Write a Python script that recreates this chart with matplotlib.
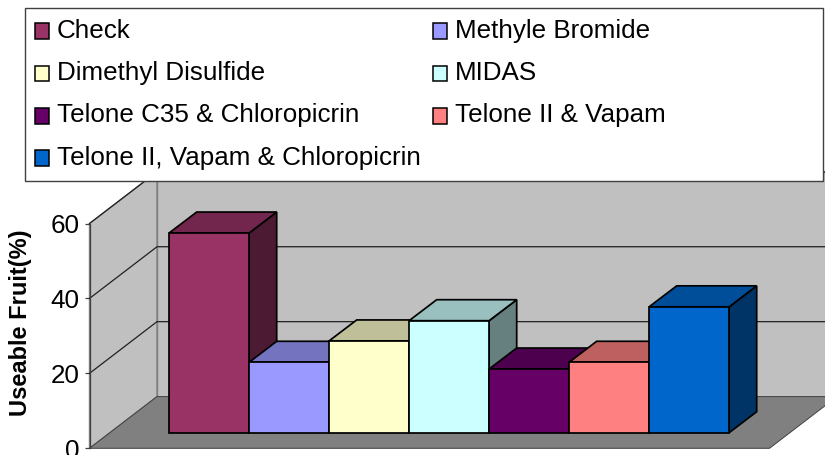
import matplotlib
matplotlib.use("Agg")
import matplotlib.pyplot as plt
from matplotlib.patches import Polygon, Patch, Rectangle
from matplotlib.legend_handler import HandlerPatch
from matplotlib.colors import to_rgb

treatments = ["Check", "Methyle Bromide", "Dimethyl Disulfide", "MIDAS",
              "Telone C35 & Chloropicrin", "Telone II & Vapam",
              "Telone II, Vapam & Chloropicrin"]
useable_fruit = [53.3, 18.8, 24.5, 29.9, 17.0, 18.8, 33.6]
colors = ["#993366", "#9999FF", "#FFFFCC", "#CCFFFF", "#660066", "#FF8080", "#0066CC"]
y_ticks = [0, 20, 40, 60]

W, H = 825, 455
plt.rcParams["font.family"] = ["Liberation Sans", "DejaVu Sans"]
fig = plt.figure(figsize=(W / 100, H / 100), dpi=100, facecolor="white")
ax = fig.add_axes([89.5 / W, 1 - 448.3 / H, 680 / W, 224.8 / H])
ax.set_xlim(-0.75, 7.75)
ax.set_ylim(0, 60)
ax.patch.set_visible(False)

# depth of the 3D box, in axis units
DX, DY = 0.844, 13.8
BAR_DX, BAR_DY = 0.345, 5.6
OFF_X, OFF_Y = 0.245, 4.16


def poly(points, fc, ec="none", lw=0.0, z=1):
    ax.add_patch(Polygon(points, closed=True, facecolor=fc, edgecolor=ec,
                         linewidth=lw, clip_on=False, zorder=z, joinstyle="miter"))


def shade(color, factor):
    return tuple(c * factor for c in to_rgb(color))


x0, x1 = ax.get_xlim()
top = y_ticks[-1]
wall_edge = "#808080"
# side wall, back wall, floor
poly([(x0, 0), (x0 + DX, DY), (x0 + DX, top + DY), (x0, top)], "#C0C0C0", wall_edge, 1.0, 1)
poly([(x0 + DX, DY), (x1 + DX, DY), (x1 + DX, top + DY), (x0 + DX, top + DY)], "#C0C0C0", wall_edge, 1.0, 1)
poly([(x0, 0), (x1, 0), (x1 + DX, DY), (x0 + DX, DY)], "#808080", "#404040", 0.7, 1)

# gridlines
for v in y_ticks[1:]:
    ax.plot([x0, x0 + DX, x1 + DX], [v, v + DY, v + DY], color="#202020", lw=0.9,
            clip_on=False, zorder=2, solid_joinstyle="miter")

# bars
for i, (v, c) in enumerate(zip(useable_fruit, colors)):
    left = i + OFF_X
    right = left + 1
    bot = OFF_Y
    tp = OFF_Y + v
    z = 3 + i
    kw = dict(ec="black", lw=1.25, z=z)
    poly([(right, bot), (right + BAR_DX, bot + BAR_DY), (right + BAR_DX, tp + BAR_DY), (right, tp)],
         shade(c, 0.5), **kw)
    poly([(left, tp), (right, tp), (right + BAR_DX, tp + BAR_DY), (left + BAR_DX, tp + BAR_DY)],
         shade(c, 0.75), **kw)
    poly([(left, bot), (right, bot), (right, tp), (left, tp)], c, **kw)

# axes
for s in ("top", "right", "bottom"):
    ax.spines[s].set_visible(False)
ax.spines["left"].set_color("#404040")
ax.spines["left"].set_linewidth(0.9)
ax.spines["left"].set_zorder(2)
ax.set_xticks([])
ax.set_yticks(y_ticks)
ax.tick_params(axis="y", length=3.5, width=0.9, color="#404040", labelsize=18.7, pad=3.8,
               labelcolor="black")
fig.text(21 / W, 1 - 323 / H, "Useable Fruit(%)", rotation=90, fontsize=17,
         fontweight="bold", ha="center", va="center")

# legend
box = Rectangle((25 / W, 1 - 180.7 / H), 797.5 / W, 172.7 / H, transform=fig.transFigure,
                facecolor="white", edgecolor="#404040", linewidth=1.0, zorder=40)
fig.add_artist(box)


def low_swatch(legend, orig_handle, xdescent, ydescent, width, height, fontsize):
    return Rectangle((-xdescent, -ydescent - 1.8), width, height)


handles = [Patch(facecolor=c, edgecolor="black", linewidth=1.1, label=t)
           for c, t in zip(colors, treatments)]
order = [0, 2, 4, 6, 1, 3, 5]
leg = fig.legend([handles[i] for i in order], [treatments[i] for i in order], ncols=2,
                 loc="upper left", bbox_to_anchor=(34.5 / W, 1 - 19 / H),
                 borderaxespad=0, borderpad=0, frameon=False, fontsize=18.7,
                 handlelength=0.56, handleheight=0.56, handletextpad=0.3,
                 labelspacing=0.70, columnspacing=0.46,
                 handler_map={Patch: HandlerPatch(patch_func=low_swatch)})
leg.set_zorder(50)

fig.savefig("out.png", dpi=100, facecolor="white")
